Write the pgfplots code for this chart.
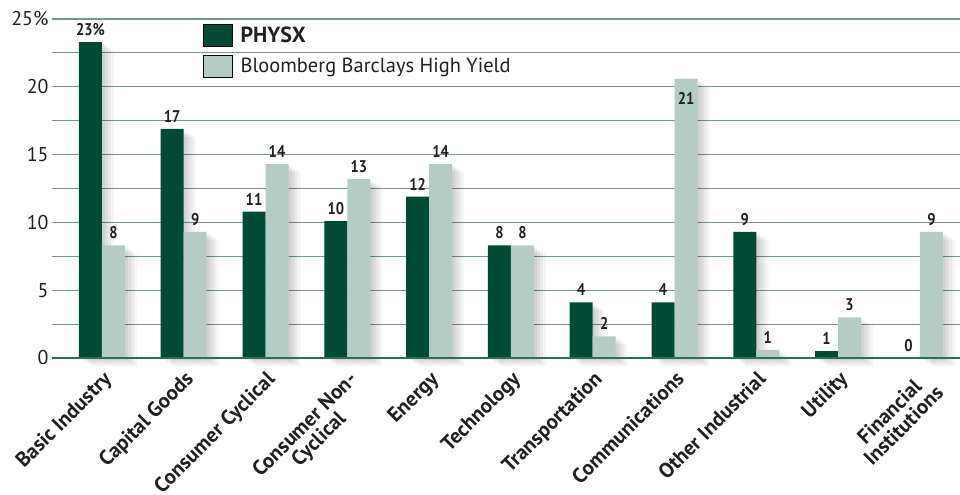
\documentclass[border=0pt]{standalone}
\usepackage{pgfplots}
\usepackage{pgfplotstable}
\pgfplotsset{compat=1.18}
\usepackage{fontspec}
\setmainfont{PT Sans}
\newfontfamily\valfont[FakeStretch=0.86]{PT Sans Bold}
\usetikzlibrary{shadows}
\definecolor{dkgreen}{HTML}{004B35}
\definecolor{ltgreen}{HTML}{B5CCC4}
\definecolor{gridgreen}{HTML}{6E9B8A}
\definecolor{axgreen}{HTML}{2E6E57}
\definecolor{txt}{HTML}{231F20}

\pgfplotstableread{
x y lab off
0 23.3 {23\%} 0
1 16.9 17 0
2 10.8 11 0
3 10.1 10 0
4 11.9 12 0
5 8.3 8 0
6 4.1 4 0
7 4.1 4 0
8 9.3 9 0
9 0.5 1 0
10 0 0 0
}\physx

\pgfplotstableread{
x y lab off
0 8.3 8 0
1 9.3 9 0
2 14.3 14 0
3 13.2 13 0
4 14.3 14 0
5 8.3 8 0
6 1.6 2 0
7 20.6 21 -32
8 0.6 1 0
9 3.0 3 0
10 9.3 9 0
}\bbhy

\begin{document}
\begin{tikzpicture}
\path[use as bounding box] (-52bp,-137bp) rectangle (908bp,358bp);
\begin{axis}[
  at={(0,0)}, anchor=south west,
  scale only axis, width=908bp, height=339bp,
  clip=false,
  xmin=-0.61, xmax=10.49, ymin=0, ymax=25,
  ybar=0pt, bar width=23bp,
  axis line style={draw=none},
  major tick length=0pt, minor tick length=0pt,
  ytick={0,5,...,25},
  yticklabels={0,5,10,15,20,25\%},
  minor ytick={2.5,7.5,12.5,17.5,22.5},
  ymajorgrids, yminorgrids,
  major grid style={gridgreen, line width=1.2bp},
  minor grid style={gridgreen, line width=1.2bp},
  yticklabel style={font=\fontsize{20}{22}\selectfont, text=txt},
  xtick={0,...,10},
  xticklabels={Basic Industry, Capital Goods, Consumer Cyclical, {Consumer Non-\\Cyclical}, Energy, Technology, Transportation, Communications, Other Industrial, Utility, {Financial\\Institutions}},
  xticklabel style={rotate=45, anchor=north east, align=center, font=\bfseries\fontsize{21}{20}\selectfont, text=txt, xshift=-5bp, yshift=-5bp},
  legend image code/.code={\fill[#1] (0bp,-11bp) rectangle (29bp,11bp);},
  legend style={at={(0.1663,0.985)}, anchor=north west, draw=none, fill=none, inner sep=0pt, font=\fontsize{20.5}{22}\selectfont, text=txt, row sep=8bp, column sep=6bp},
  legend cell align=left,
]
\addlegendimage{fill=dkgreen}
\addlegendentry{\textbf{\fontsize{22}{22}\selectfont PHYSX}}
\addlegendimage{fill=ltgreen}
\addlegendentry{Bloomberg Barclays High Yield}

\addplot[fill=dkgreen, draw=none,
  point meta=explicit symbolic,
  nodes near coords,
  nodes near coords style={font=\valfont\fontsize{17}{17}\selectfont, text=txt, anchor=south, yshift=3bp},
  general shadow={fill=black, opacity=0.05, shadow xshift=3bp, shadow yshift=-2bp},
  general shadow={fill=black, opacity=0.05, shadow xshift=6bp, shadow yshift=-4bp},
  general shadow={fill=black, opacity=0.05, shadow xshift=9bp, shadow yshift=-6bp},
  general shadow={fill=black, opacity=0.04, shadow xshift=12bp, shadow yshift=-8bp}]
  table[x=x, y=y, meta=lab]{\physx};
\addplot[fill=ltgreen, draw=none,
  point meta=explicit symbolic,
  nodes near coords,
  visualization depends on={\thisrow{off}\as\labyoff},
  nodes near coords style={font=\valfont\fontsize{17}{17}\selectfont, text=txt, anchor=south, yshift=3bp+\labyoff*1bp},
  general shadow={fill=black, opacity=0.05, shadow xshift=3bp, shadow yshift=-2bp},
  general shadow={fill=black, opacity=0.05, shadow xshift=6bp, shadow yshift=-4bp},
  general shadow={fill=black, opacity=0.05, shadow xshift=9bp, shadow yshift=-6bp},
  general shadow={fill=black, opacity=0.04, shadow xshift=12bp, shadow yshift=-8bp}]
  table[x=x, y=y, meta=lab]{\bbhy};
\draw[axgreen, line width=2.5bp] (rel axis cs:0,0) -- (rel axis cs:1,0);
\end{axis}
\end{tikzpicture}
\end{document}
